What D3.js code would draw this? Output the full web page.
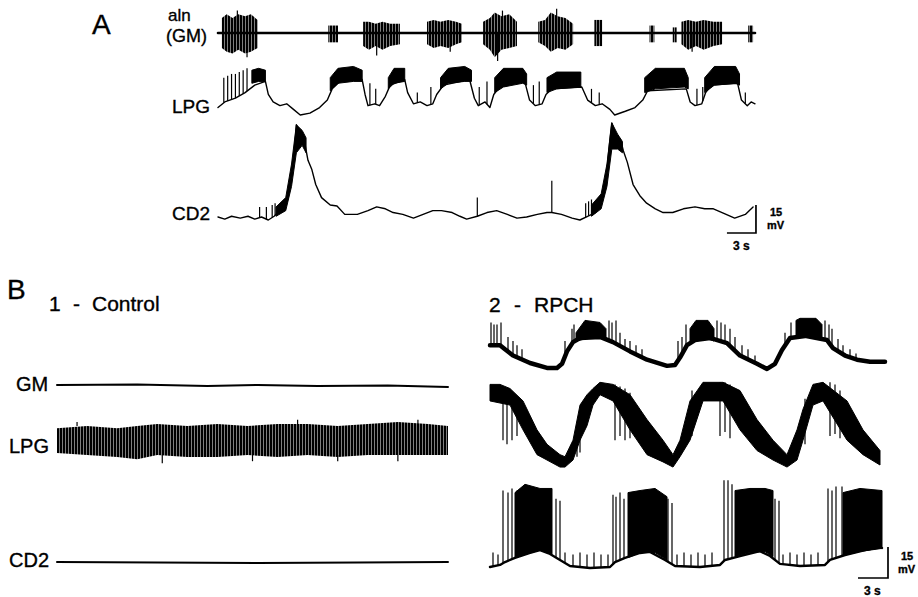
<!DOCTYPE html>
<html>
<head>
<meta charset="utf-8">
<script src="https://cdn.jsdelivr.net/npm/d3@7"></script>
<style>
body{margin:0;background:#fff}
svg text{font-family:"Liberation Sans",Arial,Helvetica,sans-serif;fill:#000;stroke:#000;stroke-width:0.35px}
</style>
</head>
<body>
<svg id="fig" width="918" height="597">
	<defs>
		<pattern id="dense" width="3" height="4" patternUnits="userSpaceOnUse"><rect width="2.5" height="4" fill="#000"></rect></pattern>
	</defs>
</svg>
<script>

// time in s, voltage in mV (extracellular GM in same units, arbitrary zero)

// ---- panel A ----
var gmBaseA = [[0,0],[55.5,0]];
var gmBurstsA = [
	[[0.4,8,-8],[0.9,10,-10],[1.5,8,-11],[2.1,10,-9],[2.8,9,-11],[3.4,10,-10],[4.1,7,-8]],
	[[11.4,4,-5],[12.4,4,-5]],
	[[15.0,6,-7],[15.6,6,-9],[16.3,5,-7],[17.0,6,-9],[17.8,5,-7],[18.8,5,-6]],
	[[21.6,6,-6],[22.3,7,-8],[23.0,6,-7],[23.8,7,-8],[24.6,6,-6],[25.2,5,-5]],
	[[27.4,6,-6],[28.1,8,-9],[28.6,11,-13],[29.3,9,-9],[30.1,10,-8],[30.9,6,-7]],
	[[33.1,6,-5],[33.8,7,-7],[34.4,11,-10],[35.1,9,-8],[35.9,8,-9],[36.7,5,-6]],
	[[38.9,7,-7],[39.7,7,-7]],
	[[44.6,4,-5],[45.1,4,-5]],
	[[47.0,3,-5],[47.4,3,-5]],
	[[47.9,6,-6],[48.6,7,-9],[49.4,6,-7],[50.2,7,-9],[51.2,6,-7],[52.1,6,-6]],
	[[54.8,4,-5],[55.3,4,-5]]
];
var gmSpikesA = [[2.0,12],[3.0,-13],[16.4,-12],[28.9,-15],[29.4,12],[35.0,13],[24.0,-10],[49.0,-10]];

var lpgBaseA = [[0,4],[0.7,7],[1.8,9],[2.8,12],[3.8,16],[4.9,18],[5.2,11],[5.7,7],[6.4,5],[7.1,6],[7.8,3],[8.5,0],
	[9.5,1],[10.5,4],[11.3,8],[11.8,14],[12.6,18],[14.2,19],[14.9,19],[15.2,11],[15.5,5],[16.2,6],[16.7,5],[17.3,10],
	[17.8,16],[19.3,19],[19.6,12],[20.2,6],[20.9,7],[21.6,5],[22.2,6],[22.6,11],[23.3,16],[26.0,19],[26.5,9],[26.9,5],
	[27.6,7],[28.1,4],[28.5,11],[29.1,15],[31.7,18],[32.2,8],[32.8,5],[33.5,6],[33.9,11],[34.5,14],[37.6,15],[38.2,8],
	[39.0,5],[39.7,6],[40.5,3],[41.0,0],[42.1,2],[43.1,4],[43.9,8],[44.4,13],[48.4,14],[48.8,7],[49.3,5],[50.0,6],
	[50.4,12],[51.0,16],[53.7,17],[54.1,8],[54.7,5],[55.1,7],[55.5,6]];
var lpgBurstsA = [
	[[3.5,24,17],[4.2,25,18],[4.9,24,18]],
	[[11.6,20,13],[12.4,25,17],[14.0,26,18],[14.9,24,18]],
	[[17.6,20,14],[18.2,25,17],[19.3,25,18]],
	[[23.0,20,14],[23.8,25,17],[25.5,26,18],[26.2,24,18]],
	[[28.6,20,12],[29.5,25,15],[31.5,25,17],[31.9,22,16]],
	[[34.0,20,12],[35.0,23,14],[37.5,23,15]],
	[[44.1,20,12],[45.2,25,14],[48.2,25,15],[48.6,20,14]],
	[[50.3,20,12],[51.3,26,16],[53.5,26,17],[53.9,22,16]]
];
var lpgSpikesA = [[0.6,20],[1.0,21],[1.4,22],[1.8,22],[2.2,23],[2.6,24],[3.0,25],[15.7,17],[16.3,14],[20.6,12],
	[22.0,15],[27.0,15],[27.8,18],[32.6,16],[33.2,18],[38.6,14],[39.4,12],[49.5,14],[50.1,15],[54.5,12]];

var cd2BaseA = [[0,1.6],[0.7,0.5],[1.4,2],[2.3,1],[3.1,2],[3.8,0.5],[4.5,1.6],[5.2,0],[5.8,2],[6.2,4],[6.8,6],[7.2,11],
	[7.5,21],[7.9,37],[8.1,51],[8.5,47],[8.9,43],[9.3,32],[9.7,27],[10.1,19],[10.7,12],[11.6,8],[12.3,7.5],[13.1,3],
	[14.4,3],[15.5,5],[16.4,7],[17.3,6],[18.1,4],[19.1,3],[20.2,1],[21.2,3],[22.2,5],[23.1,5],[24.2,4],[25.0,2],
	[25.7,0.5],[26.8,2],[27.8,4],[28.8,5],[29.9,3],[30.9,1],[31.9,1.6],[33.0,3],[34.0,4],[34.5,4],[35.5,3],[36.6,1],
	[37.4,0],[38.2,2],[39.0,4],[39.5,8],[39.9,16],[40.2,27],[40.5,43],[40.7,52],[41.1,46],[41.6,43],[41.9,37],
	[42.3,31],[42.9,19],[43.6,13],[44.3,9],[45.2,6],[46.0,4],[47.0,4],[48.1,6],[49.3,7],[50.3,6],[51.2,6],[52.1,4],
	[53.4,1],[54.5,3],[55.3,7]];
var cd2BurstsA = [
	[[6.0,7,2],[7.0,12,5],[7.6,30,18],[8.1,51,36],[8.7,48,40],[9.1,44,36]],
	[[38.6,8,2],[39.6,14,6],[40.2,30,18],[40.7,52,38],[41.3,46,38],[41.8,42,36]]
];
var cd2SpikesA = [[4.3,7],[5.0,7],[5.6,8],[5.9,9],[26.8,12],[34.5,21],[38.0,9],[38.3,10],[38.6,11]];

// ---- panel B1, control ----
var gmBaseB1 = [[0,0],[8,0.3],[15,-0.5],[20,0],[26,-0.5],[33,-0.3],[39,-1]];
var lpgBandB1 = [[0,13,1],[3,14,0],[6,13,-1],[8,14,-2],[10,15,0],[13,14,-1],[16,15,-1],[19,14,0],[22,15,-1],
	[25,15,0],[28,14,-1],[31,15,0],[34,16,0],[37,15,0],[39,14,0]];
var lpgSpikesB1 = [[10.5,0,-4],[19.5,0,-3],[28,0,-3],[34,0,-3],[2,14,16],[24,15,17],[36,15,17]];
var cd2BaseB1 = [[0,0],[10,-0.3],[20,-0.5],[30,-0.3],[39,0]];

// ---- panel B2, RPCH ----
var gmBaseB2 = [[0,12],[1,12],[1.5,10],[2.3,7],[4,3.4],[5.7,1],[6.7,1],[7.2,3],[7.7,9],[8.3,13.5],[9,15.5],[11,16],
	[12.3,13.5],[14,9],[15.7,5],[17.7,2],[18.5,2.4],[19,6],[19.7,12],[20.5,14.5],[22,15.5],[23.7,13],[25,7],[26.7,3],
	[27.7,0.5],[28.5,3],[29.2,9.7],[30,15.5],[31.5,16.5],[33.7,14.5],[34.3,10.6],[35.5,7],[36.7,5],[38,4],[39.5,4]];
var gmBurstsB2 = [
	[[8.6,18,14],[9.5,24,15],[11.0,23,16],[11.6,20,15]],
	[[20.0,20,13],[20.6,24,14],[21.8,24,15],[22.4,20,14]],
	[[30.6,24,16],[31.0,25,16],[32.6,25,16],[33.2,22,15]]
];
var gmSpikesB2 = [[0.1,23],[0.4,22],[0.7,22],[1.1,23],[1.8,16],[2.3,14],[2.7,12],[3.2,10],[7.5,14],[8.2,20],
	[8.4,22],[11.9,24],[12.2,23],[12.6,24],[13.0,18],[13.5,15],[14.0,14],[14.6,12],[15.2,10],[18.8,14],[19.2,16],
	[19.6,22],[22.7,24],[23.1,23],[23.5,22],[24.0,20],[24.5,16],[25.2,12],[25.8,10],[26.5,7],[29.5,18],[30.1,23],
	[33.5,24],[33.9,22],[34.2,20],[34.8,15],[35.3,12],[36.0,10],[36.6,8]];

var lpgBandB2 = [[0,39,31],[1,39,30],[2,37,29],[3.3,31,17],[4.7,17,5],[5.7,10,2.4],[7,5,-1],[7.5,4,-1],[8.3,12,2.4],
	[9,29,12],[9.7,34,19],[10.3,37,29],[11,40,34],[12.3,39,31],[14,34,17],[15.7,22,5],[17.3,12,1.5],[18.3,5,-1],
	[19,12,4],[20,31,12],[21.3,40,31],[23.3,40,31],[25,36,17],[26.7,22,7],[28.3,12,2.4],[29.7,5,-1],[30.7,17,2.4],
	[31.3,27,12],[32.3,39,29],[33.3,40,31],[35.7,31,12],[37.3,17,5],[39,7,0]];
var lpgSpikesB2 = [[1.3,37,12],[1.7,37,10],[2.2,35,12],[2.7,33,14],[8.7,20,4],[9.0,22,6],[12.5,39,12],[13.0,38,14],
	[13.5,37,12],[14.0,35,13],[20.2,36,14],[23.0,40,14],[23.5,40,16],[24.0,39,13],[31.5,32,10],[34.0,40,14],
	[34.5,39,15],[35.0,36,13]];

var cd2BaseB2 = [[0,0],[1,1],[1.5,2.4],[2.5,4.4],[4,6.8],[5,8.2],[6,6.3],[7,3.4],[8,0.5],[10,-0.5],[12,0],[12.5,2.4],
	[13.5,4.4],[15,6.8],[16,7.3],[17.5,3.4],[18.5,0.5],[21,0],[23,1],[23.5,3.4],[25,5.3],[27,7.7],[28,5.3],[29,1.5],
	[31,0.5],[33.5,1],[34,3.4],[35.5,5.8],[37.5,8.2],[39,9.7],[39.2,9.2]];
var cd2BurstsB2 = [
	[[2.5,36,4.4],[3.5,40,6],[5,38,8.2],[6.2,38,6]],
	[[13.8,36,4.5],[15,37,7],[16.5,38,7],[17.7,34,3.4]],
	[[24.5,37,5],[26,38,7],[27.5,38,7.5],[28.3,37,5]],
	[[35.3,36,5.5],[37,38,7.5],[39.2,37,9]]
];
var cd2SpikesB2 = [[1.3,37],[1.8,36],[2.2,38],[2.7,37],[6.6,33],[7.0,32],[12.3,35],[12.6,34],[13.0,36],[13.4,33],
	[17.8,33],[18.2,31],[23.4,42],[23.8,42],[24.2,40],[28.5,33],[28.9,32],[33.8,38],[34.2,37],[34.6,39],[35.2,39],
	[0.3,7],[0.8,6],[7.5,7],[8.3,6],[9.0,7],[9.7,6],[10.4,7],[11.1,6],[11.8,6],[18.7,6],[19.4,7],[20.1,6],[20.8,7],
	[21.5,6],[22.2,7],[29.3,6],[30.0,7],[30.7,6],[31.4,7],[32.1,6],[32.8,7]];

// scale bars
var barTime = 3, barVolt = 15;

/////////////////////////////////////////

var svg = d3.select("#fig");

var pxA = 28/15, pxB = 31/15;

var xA = d3.scaleLinear().domain([0,55.5]).range([218,755]),
	xB1 = d3.scaleLinear().domain([0,39]).range([57,448]),
	xB2 = d3.scaleLinear().domain([0,39.5]).range([490,885]);

function mv(zero, px){ return d3.scaleLinear().domain([0,15]).range([zero, zero - 15*px]); }

function valueAt(pts, t){
	var i = d3.bisector(function(d){return d[0];}).left(pts, t);
	if (i <= 0) return pts[0][1];
	if (i >= pts.length) return pts[pts.length-1][1];
	var a = pts[i-1], b = pts[i];
	return a[1] + (b[1]-a[1]) * (t-a[0]) / (b[0]-a[0]);
}

function trace(x, y, o){
	var g = svg.append("g");
	var area = d3.area().x(function(d){return x(d[0]);})
		.y0(function(d){return y(d[2]);}).y1(function(d){return y(d[1]);});
	g.selectAll("path.burst").data(o.bursts || []).enter().append("path")
		.attr("class","burst").attr("d", area)
		.attr("fill", o.fill || "#000")
		.attr("stroke", o.fill ? "none" : "#000").attr("stroke-width",1);
	if (o.base) {
		g.append("path").datum(o.base)
			.attr("d", d3.line().x(function(d){return x(d[0]);}).y(function(d){return y(d[1]);}))
			.attr("fill","none").attr("stroke","#000")
			.attr("stroke-width", o.width || 1.4).attr("stroke-linejoin","round").attr("stroke-linecap","round");
	}
	g.selectAll("line.spike").data(o.spikes || []).enter().append("line")
		.attr("class","spike")
		.attr("x1", function(d){return x(d[0]);}).attr("x2", function(d){return x(d[0]);})
		.attr("y1", function(d){return y(d.length > 2 ? d[2] : valueAt(o.base, d[0]));})
		.attr("y2", function(d){return y(d[1]);})
		.attr("stroke","#000").attr("stroke-width", o.spikeWidth || 1.2);
}

function label(txt, x, y, size, weight){
	svg.append("text").attr("x",x).attr("y",y).attr("font-size",size)
		.attr("font-weight", weight || "normal").text(txt);
}

function scaleBar(x, tEnd, yBot, px, lx, ly){
	var yv = mv(yBot, px);
	svg.append("path")
		.attr("d", d3.line()([[x(tEnd - barTime), yBot], [x(tEnd), yBot], [x(tEnd), yv(barVolt)]]))
		.attr("fill","none").attr("stroke","#000").attr("stroke-width",1.7);
	label(barVolt, lx + 3, ly, 11, "bold");
	label("mV", lx, ly + 13, 11, "bold");
	label(barTime + " s", x(tEnd - barTime) + 6, yBot + 17, 12, "bold");
}

// panel A
trace(xA, mv(33, pxA), {base: gmBaseA, bursts: gmBurstsA, spikes: gmSpikesA, width: 2.6, fill: "url(#dense)"});
trace(xA, mv(115, pxA), {base: lpgBaseA, bursts: lpgBurstsA, spikes: lpgSpikesA, width: 1.4});
trace(xA, mv(220, pxA), {base: cd2BaseA, bursts: cd2BurstsA, spikes: cd2SpikesA, width: 1.4});

label("A", 92, 34, 28);
label("aln", 168, 21, 17);
label("(GM)", 166, 42, 18);
label("LPG", 172, 113, 19);
label("CD2", 172, 220, 19);
scaleBar(xA, 55.6, 233, pxA, 767, 216);

// panel B1
trace(xB1, mv(385, pxB), {base: gmBaseB1, width: 2});
trace(xB1, mv(455, pxB), {bursts: [lpgBandB1], spikes: lpgSpikesB1, fill: "url(#dense)"});
trace(xB1, mv(562, pxB), {base: cd2BaseB1, width: 2});

label("B", 7, 299, 28);
label("1", 49, 311, 21);
label("-", 73, 311, 21);
label("Control", 92, 311, 21);
label("GM", 16, 391, 20);
label("LPG", 9, 453, 20);
label("CD2", 9, 567, 20);

// panel B2
trace(xB2, mv(370, pxB), {base: gmBaseB2, bursts: gmBurstsB2, spikes: gmSpikesB2, width: 4.5});
trace(xB2, mv(465, pxB), {bursts: [lpgBandB2], spikes: lpgSpikesB2});
trace(xB2, mv(567, pxB), {base: cd2BaseB2, bursts: cd2BurstsB2, spikes: cd2SpikesB2, width: 2.4});

label("2", 489, 312, 21);
label("-", 514, 312, 21);
label("RPCH", 534, 312, 21);
scaleBar(xB2, 39.8, 578, pxB, 898, 560);

</script>
</body>
</html>
